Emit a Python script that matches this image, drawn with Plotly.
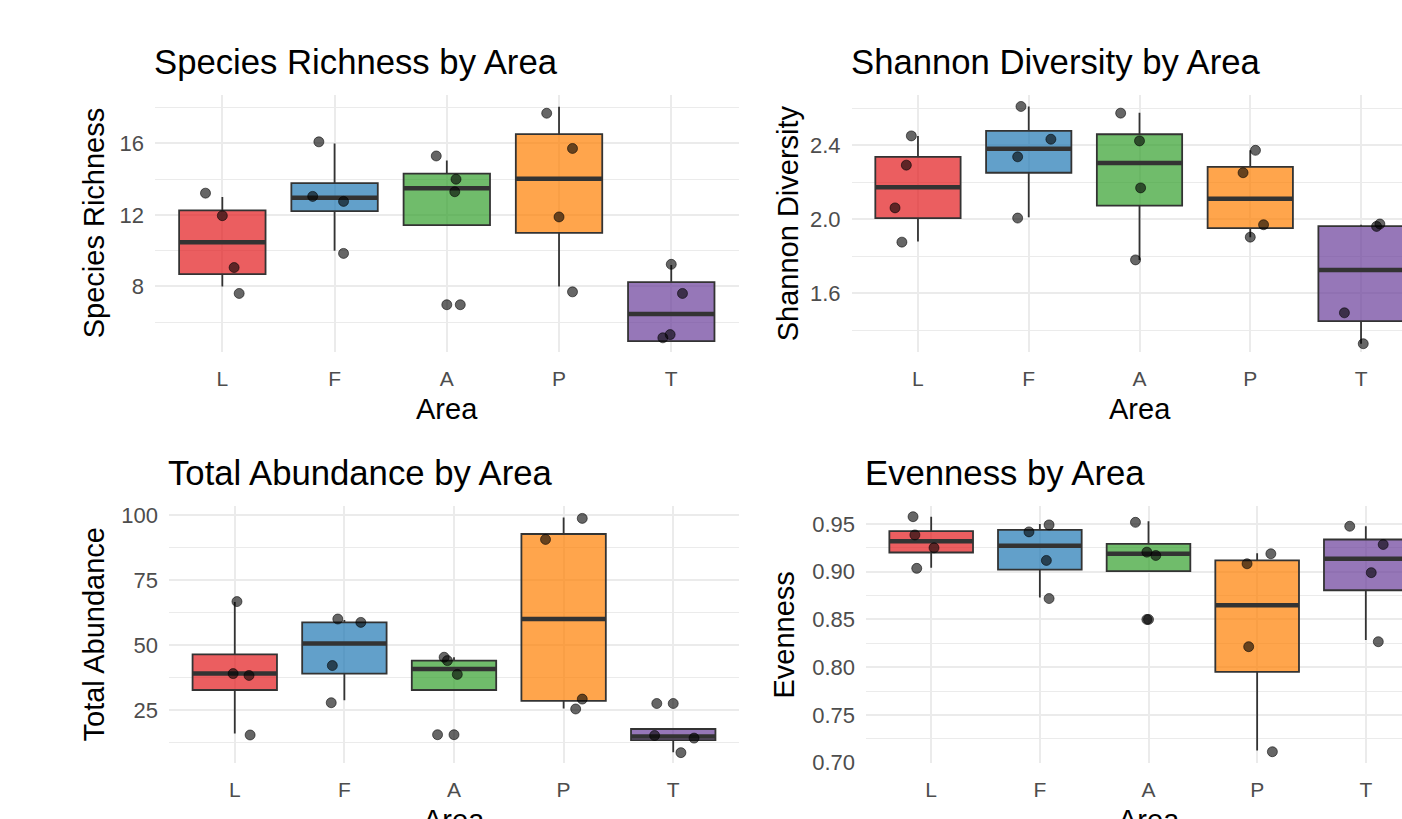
import plotly.graph_objects as go

# ---------------- data ----------------
areas = ["L", "F", "A", "P", "T"]
area_colors = ["#E31A1C", "#1F78B4", "#33A02C", "#FF7F00", "#6A3D9A"]

# Species Richness
richness_q1 = [8.69, 12.22, 11.43, 11.0, 4.94]
richness_median = [10.48, 12.96, 13.5, 14.02, 6.46]
richness_q3 = [12.26, 13.78, 14.31, 16.52, 8.24]
richness_lower = [8.0, 10.0, 11.43, 8.0, 4.94]
richness_upper = [13.0, 16.0, 15.05, 18.05, 9.2]
richness_points = [[13.22, 11.96, 9.06, 7.61],
                   [16.09, 13.04, 12.76, 9.85],
                   [15.3, 14.0, 13.3, 6.98, 6.98],
                   [17.69, 15.72, 11.89, 7.70],
                   [9.24, 7.61, 5.31, 5.13]]
richness_jitter = [[-0.15, 0.0, 0.105, 0.15],
                   [-0.14, -0.195, 0.08, 0.08],
                   [-0.094, 0.082, 0.071, 0.12, 0.0],
                   [-0.11, 0.12, 0.0, 0.12],
                   [0.0, 0.10, -0.01, -0.075]]

# Shannon Diversity
shannon_q1 = [2.007, 2.252, 2.074, 1.953, 1.45]
shannon_median = [2.174, 2.382, 2.304, 2.112, 1.727]
shannon_q3 = [2.338, 2.478, 2.46, 2.284, 1.964]
shannon_lower = [1.881, 2.011, 1.781, 1.904, 1.328]
shannon_upper = [2.451, 2.61, 2.576, 2.373, 1.971]
shannon_points = [[2.451, 2.293, 2.062, 1.877],
                  [2.61, 2.433, 2.338, 2.007],
                  [2.574, 2.424, 2.17, 1.781],
                  [2.373, 2.252, 1.971, 1.904],
                  [1.975, 1.962, 1.495, 1.328]]
shannon_jitter = [[-0.06, -0.105, -0.207, -0.145],
                  [-0.07, 0.2, -0.1, -0.1],
                  [-0.17, 0.0, 0.01, -0.036],
                  [0.047, -0.065, 0.12, 0.0],
                  [0.17, 0.14, -0.15, 0.02]]

# Total Abundance
abundance_q1 = [32.7, 39.0, 32.7, 28.5, 13.4]
abundance_median = [39.0, 50.6, 40.8, 60.0, 14.8]
abundance_q3 = [46.4, 58.7, 44.0, 92.7, 17.7]
abundance_lower = [16.0, 28.8, 32.7, 25.6, 8.8]
abundance_upper = [66.5, 59.6, 45.3, 99.0, 17.7]
abundance_points = [[66.7, 39.0, 38.3, 15.4],
                    [60.0, 58.7, 42.1, 27.8],
                    [45.3, 44.0, 38.7, 15.5, 15.5],
                    [98.7, 90.6, 29.2, 25.4],
                    [27.5, 27.5, 15.2, 14.2, 8.6]]
abundance_jitter = [[0.02, -0.015, 0.13, 0.14],
                    [-0.06, 0.15, -0.11, -0.12],
                    [-0.09, -0.06, 0.03, -0.15, 0.0],
                    [0.17, -0.165, 0.17, 0.11],
                    [-0.15, 0.0, -0.17, 0.19, 0.07]]

# Evenness
evenness_q1 = [0.9201, 0.9021, 0.9007, 0.7951, 0.8806]
evenness_median = [0.932, 0.9271, 0.9188, 0.8649, 0.9135]
evenness_q3 = [0.9424, 0.9438, 0.9292, 0.9118, 0.9337]
evenness_lower = [0.9042, 0.873, 0.9007, 0.7128, 0.8285]
evenness_upper = [0.9576, 0.95, 0.9528, 0.9194, 0.9476]
evenness_points = [[0.9576, 0.9385, 0.925, 0.9035],
                   [0.949, 0.9417, 0.9118, 0.8719],
                   [0.9517, 0.9205, 0.917, 0.85, 0.85],
                   [0.9188, 0.9083, 0.8215, 0.7115],
                   [0.9476, 0.9285, 0.899, 0.8267]]
evenness_jitter = [[-0.167, -0.15, 0.026, -0.133],
                   [0.085, -0.1, 0.06, 0.085],
                   [-0.12, -0.015, 0.067, -0.015, 0.0],
                   [0.126, -0.093, -0.078, 0.14],
                   [-0.148, 0.16, 0.05, 0.115]]

panel_titles = ["Species Richness by Area", "Shannon Diversity by Area",
                "Total Abundance by Area", "Evenness by Area"]
y_titles = ["Species Richness", "Shannon Diversity", "Total Abundance", "Evenness"]
x_title = "Area"

# ---------------- styling / layout ----------------
W, H = 1402, 819
FONT = "Liberation Sans, Arial, sans-serif"
BOX_W = 0.77
GRID = "#EBEBEB"
OUTLINE = "#333333"
TICK_COL = "#4D4D4D"


def rgba(hexcol, a):
    h = hexcol.lstrip("#")
    r, g, b = int(h[0:2], 16), int(h[2:4], 16), int(h[4:6], 16)
    return f"rgba({r},{g},{b},{a})"


def px_x(v):
    return v / W


def px_y(v):
    return 1 - v / H


# plot-area pixel boxes: left, full right, top, bottom; y-range, tick step, format
panels = [
    dict(l=155, rr=738.6, t=95, b=351.5, yr=[4.364, 18.71], dt=4, fmt="d", yt=94,
         q=(richness_q1, richness_median, richness_q3, richness_lower, richness_upper),
         pts=richness_points, jit=richness_jitter),
    dict(l=851.5, rr=1427.5, t=95, b=351.5, yr=[1.286, 2.672], dt=0.4, fmt=".1f", yt=788,
         q=(shannon_q1, shannon_median, shannon_q3, shannon_lower, shannon_upper),
         pts=shannon_points, jit=shannon_jitter),
    dict(l=169, rr=739, t=506, b=763, yr=[4.62, 103.46], dt=25, fmt="d", yt=93,
         q=(abundance_q1, abundance_median, abundance_q3, abundance_lower, abundance_upper),
         pts=abundance_points, jit=abundance_jitter),
    dict(l=866, rr=1431, t=506, b=763, yr=[0.6997, 0.9688], dt=0.05, fmt=".2f", yt=783,
         q=(evenness_q1, evenness_median, evenness_q3, evenness_lower, evenness_upper),
         pts=evenness_points, jit=evenness_jitter),
]

fig = go.Figure()
layout = dict(width=W, height=H, margin=dict(l=0, r=0, t=0, b=0, autoexpand=False),
              plot_bgcolor="white", paper_bgcolor="white", showlegend=False,
              boxmode="overlay", font=dict(family=FONT))
annotations = []

for k, p in enumerate(panels):
    n = k + 1
    xa = "x" if n == 1 else f"x{n}"
    ya = "y" if n == 1 else f"y{n}"
    unit = (p["rr"] - p["l"]) / 5.2
    right_px = min(p["rr"], W)
    x_hi = 0.4 + (right_px - p["l"]) / unit
    q1, med, q3, lo, hi = p["q"]

    for i, area in enumerate(areas):
        pos = i + 1
        fig.add_trace(go.Box(
            x=[pos], q1=[q1[i]], median=[med[i]], q3=[q3[i]],
            lowerfence=[lo[i]], upperfence=[hi[i]],
            width=BOX_W, whiskerwidth=0, boxpoints=False,
            fillcolor=rgba(area_colors[i], 0.7),
            line=dict(color=OUTLINE, width=1.8),
            xaxis=xa, yaxis=ya, hoverinfo="skip", name=area))
        fig.add_trace(go.Scatter(
            x=[pos - BOX_W / 2, pos + BOX_W / 2], y=[med[i], med[i]],
            mode="lines", line=dict(color=OUTLINE, width=4.5),
            xaxis=xa, yaxis=ya, hoverinfo="skip"))
    for i, area in enumerate(areas):
        pos = i + 1
        fig.add_trace(go.Scatter(
            x=[pos + d for d in p["jit"][i]], y=p["pts"][i], mode="markers",
            marker=dict(size=10, color="rgba(0,0,0,0.6)",
                        line=dict(width=1, color="rgba(0,0,0,0.55)")),
            xaxis=xa, yaxis=ya, hoverinfo="skip"))

    xkey = "xaxis" if n == 1 else f"xaxis{n}"
    ykey = "yaxis" if n == 1 else f"yaxis{n}"
    layout[xkey] = dict(
        domain=[px_x(p["l"]), px_x(right_px)], range=[0.4, x_hi], anchor=ya,
        tickmode="array", tickvals=[1, 2, 3, 4, 5], ticktext=areas,
        showgrid=True, gridcolor=GRID, gridwidth=1.6, zeroline=False, showline=False,
        ticks="", ticklabelstandoff=12,
        tickfont=dict(size=21, color=TICK_COL, family=FONT), fixedrange=True)
    layout[ykey] = dict(
        domain=[px_y(p["b"]), px_y(p["t"])], range=p["yr"], anchor=xa,
        tick0=0, dtick=p["dt"], tickformat=p["fmt"],
        showgrid=True, gridcolor=GRID, gridwidth=1.6, zeroline=False, showline=False,
        ticks="", ticklabelstandoff=10,
        minor=dict(tick0=0, dtick=p["dt"] / 2, showgrid=True, gridcolor=GRID, gridwidth=1.2),
        tickfont=dict(size=22, color=TICK_COL, family=FONT), fixedrange=True)

    annotations.append(dict(text=panel_titles[k], xref="paper", yref="paper",
                            x=px_x(p["l"] - 3), y=px_y(p["t"] - 33), xanchor="left", yanchor="middle",
                            showarrow=False, font=dict(size=34.7, color="black", family=FONT)))
    annotations.append(dict(text=y_titles[k], xref="paper", yref="paper",
                            x=px_x(p["yt"]), y=px_y((p["t"] + p["b"]) / 2), textangle=-90,
                            xanchor="center", yanchor="middle", showarrow=False,
                            font=dict(size=29, color="black", family=FONT)))
    annotations.append(dict(text=x_title, xref="paper", yref="paper",
                            x=px_x((p["l"] + p["rr"]) / 2), y=px_y(p["b"] + 57),
                            xanchor="center", yanchor="middle", showarrow=False,
                            font=dict(size=29, color="black", family=FONT)))

layout["annotations"] = annotations
fig.update_layout(**layout)
fig.write_html("out.html", config={"displayModeBar": False},
               post_script="document.body.style.margin='0';document.body.style.overflow='hidden';")
